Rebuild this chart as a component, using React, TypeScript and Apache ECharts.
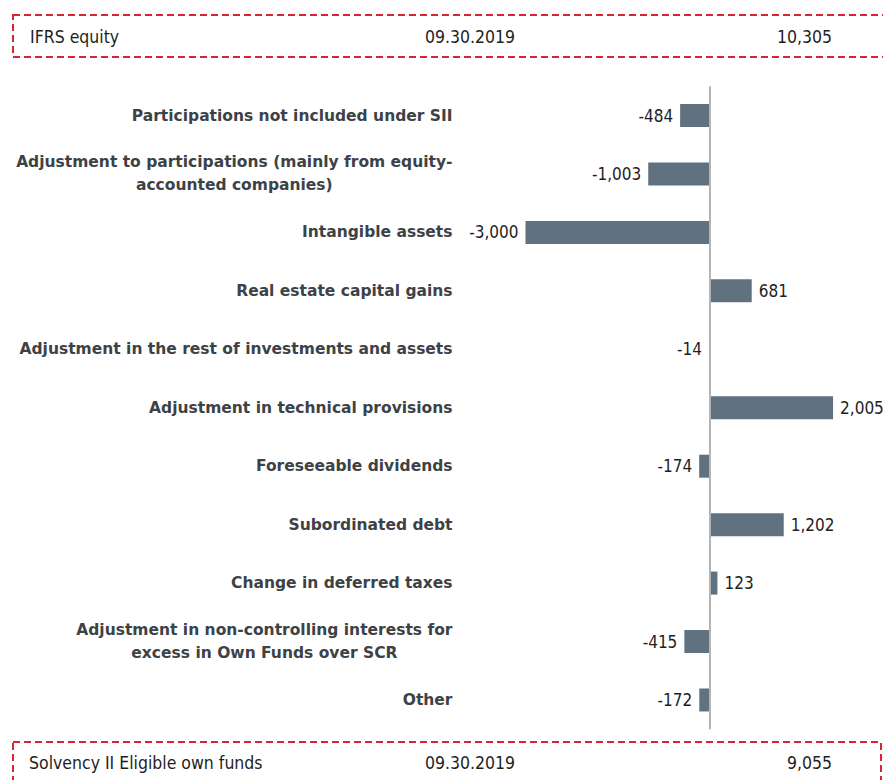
import React, { useEffect, useRef } from "react";
import * as echarts from "echarts";

const categories = [
  "Participations not included under SII",
  "Adjustment to participations (mainly from equity-\naccounted companies)",
  "Intangible assets",
  "Real estate capital gains",
  "Adjustment in the rest of investments and assets",
  "Adjustment in technical provisions",
  "Foreseeable dividends",
  "Subordinated debt",
  "Change in deferred taxes",
  "Adjustment in non-controlling interests for\nexcess in Own Funds over SCR",
  "Other",
];
const values = [-484, -1003, -3000, 681, -14, 2005, -174, 1202, 123, -415, -172];

const topRow = ["IFRS equity", "09.30.2019", "10,305"];
const bottomRow = ["Solvency II Eligible own funds", "09.30.2019", "9,055"];

const fmt = (v: number) => {
  const s = Math.abs(v).toLocaleString("en-US");
  return (v < 0 ? "-" : "") + s;
};

export default function App() {
  const ref = useRef<HTMLDivElement>(null);
  useEffect(() => {
    if (!ref.current) return;
    const chart = echarts.init(ref.current, null, { renderer: "svg" });
    const boxFont = "DejaVu Sans Condensed";
    const textStyle = (txt: string, x: number, y: number, align: string) => ({
      type: "text",
      x,
      y,
      style: {
        text: txt,
        fontFamily: boxFont,
        fontSize: 17.5,
        fill: "#1e1e1e",
        align,
        verticalAlign: "middle",
      },
    });
    const boxRect = (y: number, h: number, w: number) => ({
      type: "rect",
      shape: { x: 13, y, width: w, height: h },
      style: {
        fill: "none",
        stroke: "#d7262f",
        lineWidth: 2,
        lineDash: [7, 4],
      },
    });
    chart.setOption({
      animation: false,
      grid: { left: 525.5, right: 19.5, top: 86.3, bottom: 50.8 },
      xAxis: {
        type: "value",
        min: -3000,
        max: 2500,
        show: false,
      },
      yAxis: {
        type: "category",
        inverse: true,
        data: categories,
        axisLine: { show: false },
        axisTick: { show: false },
        axisLabel: {
          margin: 73,
          align: "right",
          formatter: (v: string) =>
            v
              .split("\n")
              .map((l) => "{c|" + l + "}")
              .join("\n"),
          rich: {
            c: {
              fontFamily: "DejaVu Sans",
              fontWeight: "bold",
              fontSize: 15.5,
              color: "#3d4246",
              align: "center",
              lineHeight: 23,
            },
          },
        },
      },
      series: [
        {
          type: "bar",
          data: values.map((v) => ({
            value: v,
            label: {
              show: true,
              position: v < 0 ? "left" : "right",
              distance: 7,
              formatter: () => fmt(v),
              fontFamily: boxFont,
              fontSize: 17,
              color: "#1e1e1e",
            },
          })),
          barWidth: 23,
          itemStyle: { color: "#607180" },
          markLine: {
            silent: true,
            symbol: ["none", "none"],
            label: { show: false },
            lineStyle: { color: "#b4b4b4", width: 2, type: "solid" },
            data: [{ xAxis: 0 }],
          },
        },
      ],
      graphic: [
        boxRect(15, 42, 890),
        textStyle(topRow[0], 30, 37, "left"),
        textStyle(topRow[1], 470, 37, "center"),
        textStyle(topRow[2], 832, 37, "right"),
        boxRect(742, 60, 868),
        textStyle(bottomRow[0], 29, 763, "left"),
        textStyle(bottomRow[1], 470, 763, "center"),
        textStyle(bottomRow[2], 832, 763, "right"),
      ],
    });
    return () => chart.dispose();
  }, []);
  return (
    <div
      ref={ref}
      style={{ position: "fixed", left: 0, top: 0, width: 883, height: 780, background: "#fff" }}
    />
  );
}
